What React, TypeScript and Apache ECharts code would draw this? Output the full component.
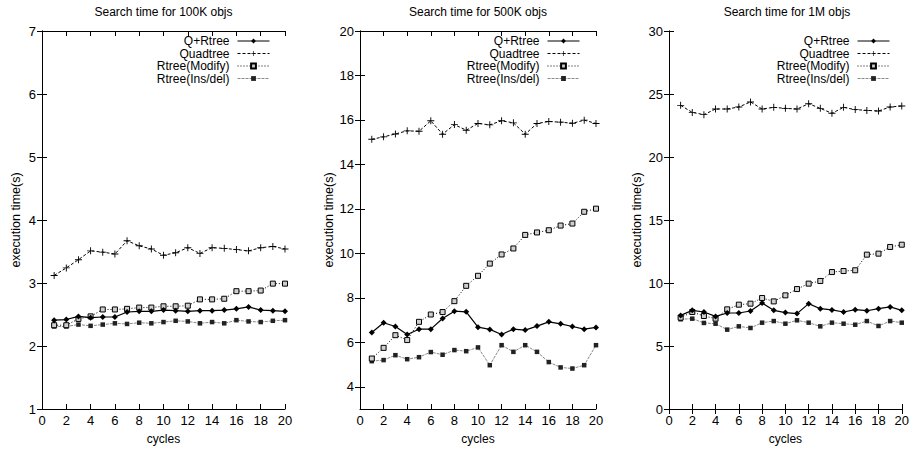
import React, { useEffect, useRef } from "react";
import * as echarts from "echarts";

const cycles = [1, 2, 3, 4, 5, 6, 7, 8, 9, 10, 11, 12, 13, 14, 15, 16, 17, 18, 19, 20];
const seriesNames = ["Q+Rtree", "Quadtree", "Rtree(Modify)", "Rtree(Ins/del)"];
const panelTitles = ["Search time for 100K objs", "Search time for 500K objs", "Search time for 1M objs"];

// 100K objects
const qrtree100k = [2.41, 2.42, 2.47, 2.45, 2.46, 2.46, 2.54, 2.55, 2.55, 2.57, 2.56, 2.55, 2.56, 2.56, 2.57, 2.59, 2.62, 2.57, 2.56, 2.55];
const quadtree100k = [3.12, 3.24, 3.37, 3.51, 3.49, 3.46, 3.67, 3.59, 3.54, 3.44, 3.48, 3.56, 3.47, 3.56, 3.55, 3.53, 3.51, 3.56, 3.58, 3.54];
const modify100k = [2.33, 2.33, 2.43, 2.47, 2.58, 2.58, 2.59, 2.61, 2.61, 2.63, 2.63, 2.64, 2.74, 2.74, 2.75, 2.87, 2.87, 2.88, 2.99, 2.99];
const insdel100k = [2.31, 2.31, 2.34, 2.32, 2.34, 2.36, 2.35, 2.37, 2.36, 2.38, 2.40, 2.39, 2.36, 2.38, 2.36, 2.41, 2.39, 2.38, 2.40, 2.41];

// 500K objects
const qrtree500k = [6.44, 6.88, 6.71, 6.35, 6.59, 6.59, 7.07, 7.40, 7.37, 6.68, 6.58, 6.35, 6.59, 6.55, 6.73, 6.92, 6.83, 6.71, 6.59, 6.67];
const quadtree500k = [15.13, 15.24, 15.37, 15.51, 15.49, 15.96, 15.36, 15.79, 15.54, 15.84, 15.78, 15.96, 15.87, 15.36, 15.84, 15.93, 15.90, 15.85, 15.99, 15.84];
const modify500k = [5.27, 5.75, 6.32, 6.10, 6.92, 7.25, 7.36, 7.85, 8.54, 8.99, 9.54, 9.95, 10.22, 10.83, 10.94, 11.04, 11.25, 11.34, 11.87, 12.01];
const insdel500k = [5.15, 5.20, 5.42, 5.24, 5.33, 5.56, 5.44, 5.65, 5.60, 5.77, 4.97, 5.87, 5.57, 5.87, 5.57, 5.11, 4.87, 4.82, 4.97, 5.87];

// 1M objects
const qrtree1m = [7.43, 7.83, 7.70, 7.35, 7.62, 7.62, 7.78, 8.41, 7.83, 7.65, 7.57, 8.36, 7.96, 7.86, 7.70, 7.88, 7.80, 7.96, 8.10, 7.83];
const quadtree1m = [24.10, 23.54, 23.36, 23.81, 23.81, 23.97, 24.37, 23.81, 23.94, 23.86, 23.81, 24.23, 23.86, 23.47, 23.94, 23.76, 23.70, 23.65, 23.97, 24.05];
const modify1m = [7.25, 7.70, 7.38, 7.17, 7.91, 8.28, 8.36, 8.81, 8.54, 9.02, 9.52, 9.95, 10.16, 10.87, 10.95, 11.01, 12.25, 12.33, 12.86, 13.04];
const insdel1m = [7.12, 7.17, 6.83, 6.77, 6.30, 6.56, 6.43, 6.85, 6.98, 6.77, 7.04, 6.85, 6.56, 6.85, 6.77, 6.69, 6.98, 6.59, 6.98, 6.85];

const xTicks = [0, 2, 4, 6, 8, 10, 12, 14, 16, 18, 20];
const yTicks100k = [1, 2, 3, 4, 5, 6, 7];
const yTicks500k = [4, 6, 8, 10, 12, 14, 16, 18, 20];
const yTicks1m = [0, 5, 10, 15, 20, 25, 30];
const yRanges = [[1, 7], [3, 20], [0, 30]];

const FONT = "'Liberation Sans', Arial, Helvetica, sans-serif";

export default function App() {
  const ref = useRef<HTMLDivElement>(null);
  useEffect(() => {
    if (!ref.current) return;
    const chart = echarts.init(ref.current, undefined, { renderer: "svg" });

    const panels = [
      { data: [qrtree100k, quadtree100k, modify100k, insdel100k], yTicks: yTicks100k },
      { data: [qrtree500k, quadtree500k, modify500k, insdel500k], yTicks: yTicks500k },
      { data: [qrtree1m, quadtree1m, modify1m, insdel1m], yTicks: yTicks1m },
    ];
    const gridPos = [
      { left: 42, width: 243, center: 163.5, yNameGap: 20, legendRight: 642 },
      { left: 360, width: 236, center: 478, yNameGap: 24, legendRight: 332 },
      { left: 669, width: 236, center: 787, yNameGap: 26, legendRight: 22 },
    ];
    const top = 31;
    const height = 378;

    const styles = [
      {
        lineStyle: { color: "#000", width: 1.2, type: "solid" },
        symbol: "diamond",
        symbolSize: 6,
        itemStyle: { color: "#000" },
      },
      {
        lineStyle: { color: "#000", width: 1, type: [3, 2] },
        symbol: "path://M4,0h1.2v4h4v1.2h-4v4h-1.2v-4h-4v-1.2h4z",
        symbolSize: 7,
        itemStyle: { color: "#000" },
      },
      {
        lineStyle: { color: "#000", width: 1, type: [1, 2] },
        symbol: "rect",
        symbolSize: 5,
        itemStyle: { color: "#cfcfcf", borderColor: "#000", borderWidth: 1 },
      },
      {
        lineStyle: { color: "#8a8a8a", width: 1, type: [3, 1] },
        symbol: "rect",
        symbolSize: 4.5,
        itemStyle: { color: "#222" },
      },
    ];

    const grids: any[] = [];
    const xAxes: any[] = [];
    const yAxes: any[] = [];
    const series: any[] = [];
    const legends: any[] = [];
    const graphics: any[] = [];

    panels.forEach((p, i) => {
      const g = gridPos[i];
      grids.push({ left: g.left, top, width: g.width, height, containLabel: false });
      const tickStyle = { show: true, inside: true, length: 5, lineStyle: { color: "#000", width: 1 } };
      xAxes.push({
        type: "value",
        gridIndex: i,
        position: "bottom",
        min: 0,
        max: 20,
        interval: 2,
        axisLine: { show: true, lineStyle: { color: "#000", width: 1 } },
        axisTick: tickStyle,
        axisLabel: { color: "#000", fontSize: 13, fontFamily: FONT, margin: 5, customValues: xTicks },
        splitLine: { show: false },
        name: "cycles",
        nameLocation: "middle",
        nameGap: 24,
        nameTextStyle: { color: "#000", fontSize: 12, fontFamily: FONT },
      });
      xAxes.push({
        type: "value",
        gridIndex: i,
        position: "top",
        min: 0,
        max: 20,
        interval: 2,
        axisLine: { show: true, lineStyle: { color: "#000", width: 1 } },
        axisTick: tickStyle,
        axisLabel: { show: false },
        splitLine: { show: false },
      });
      const [ymin, ymax] = yRanges[i];
      yAxes.push({
        type: "value",
        gridIndex: i,
        position: "left",
        min: ymin,
        max: ymax,
        axisLine: { show: true, lineStyle: { color: "#000", width: 1 } },
        axisTick: { ...tickStyle, customValues: p.yTicks },
        axisLabel: { color: "#000", fontSize: 13, fontFamily: FONT, margin: 6, customValues: p.yTicks },
        splitLine: { show: false },
        name: "execution time(s)",
        nameLocation: "middle",
        nameGap: g.yNameGap,
        nameRotate: 90,
        nameTextStyle: { color: "#000", fontSize: 12.5, fontFamily: FONT },
      });
      yAxes.push({
        type: "value",
        gridIndex: i,
        position: "right",
        min: ymin,
        max: ymax,
        axisLine: { show: true, lineStyle: { color: "#000", width: 1 } },
        axisTick: { ...tickStyle, customValues: p.yTicks },
        axisLabel: { show: false, customValues: p.yTicks },
        splitLine: { show: false },
      });

      p.data.forEach((vals, k) => {
        series.push({
          type: "line",
          name: seriesNames[k],
          xAxisIndex: 2 * i,
          yAxisIndex: 2 * i,
          data: cycles.map((c, j) => [c, vals[j]]),
          showSymbol: true,
          symbol: styles[k].symbol,
          symbolSize: styles[k].symbolSize,
          lineStyle: styles[k].lineStyle,
          itemStyle: styles[k].itemStyle,
          emphasis: { disabled: true },
          z: 10 - k,
        });
      });

      legends.push({
        orient: "vertical",
        align: "right",
        right: g.legendRight,
        top: 35,
        itemWidth: 32,
        itemHeight: 6,
        itemGap: 0.5,
        padding: 0,
        selectedMode: false,
        data: seriesNames,
        lineStyle: { width: 1 },
        textStyle: { color: "#000", fontSize: 12, fontFamily: FONT, padding: [0, 3, 0, 0] },
      });

      graphics.push({
        type: "text",
        x: g.center,
        y: 12,
        style: {
          text: panelTitles[i],
          fill: "#000",
          font: `12px ${FONT}`,
          align: "center",
          verticalAlign: "middle",
        },
      });
    });

    chart.setOption({
      animation: false,
      backgroundColor: "#fff",
      grid: grids,
      xAxis: xAxes,
      yAxis: yAxes,
      series,
      legend: legends,
      graphic: graphics,
    });
    return () => chart.dispose();
  }, []);
  return (
    <div
      ref={ref}
      style={{ position: "absolute", left: 0, top: 0, width: 912, height: 452, background: "#fff" }}
    />
  );
}
